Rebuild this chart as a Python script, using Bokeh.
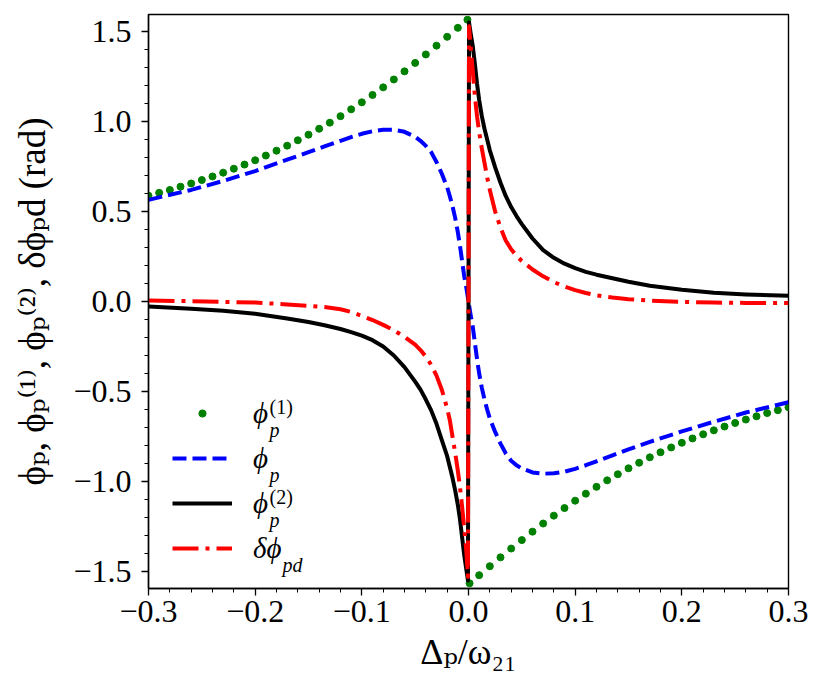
from bokeh.plotting import figure
from bokeh.models import (Label, Legend, LegendItem, FixedTicker,
                          CustomJSTickFormatter, Range1d)
from bokeh.embed import file_html
from bokeh.resources import INLINE

# ---- data ----
x_line = [-0.300, -0.260, -0.230, -0.200, -0.170, -0.150, -0.135, -0.120, -0.110, -0.100,
          -0.090, -0.080, -0.070, -0.060, -0.050, -0.045, -0.040, -0.035, -0.030, -0.025,
          -0.020, -0.0175, -0.015, -0.0125, -0.010, -0.008, -0.006, -0.004, -0.002, -0.0005,
          0.0005, 0.002, 0.004, 0.006, 0.008, 0.010, 0.0125, 0.015, 0.0175, 0.020,
          0.025, 0.030, 0.035, 0.040, 0.045, 0.050, 0.060, 0.070, 0.080, 0.090,
          0.100, 0.110, 0.120, 0.135, 0.150, 0.170, 0.200, 0.230, 0.260, 0.300]

phi_p = [0.565, 0.62, 0.67, 0.725, 0.788, 0.83, 0.862, 0.893, 0.914, 0.932,
         0.946, 0.955, 0.955, 0.943, 0.915, 0.893, 0.865, 0.83, 0.775, 0.71,
         0.635, 0.585, 0.53, 0.465, 0.385, 0.31, 0.225, 0.14, 0.075, 0.02,
         -0.02, -0.075, -0.14, -0.23, -0.32, -0.40, -0.48, -0.545, -0.60, -0.65,
         -0.725, -0.79, -0.845, -0.885, -0.91, -0.928, -0.95, -0.957, -0.955, -0.946,
         -0.93, -0.91, -0.888, -0.855, -0.822, -0.78, -0.722, -0.668, -0.617, -0.56]

phi_p2 = [-0.028, -0.040, -0.051, -0.068, -0.095, -0.114, -0.132, -0.153, -0.17, -0.19,
          -0.215, -0.25, -0.30, -0.365, -0.445, -0.49, -0.545, -0.605, -0.68, -0.77,
          -0.86, -0.92, -0.98, -1.05, -1.13, -1.21, -1.31, -1.41, -1.49, -1.55,
          1.55, 1.49, 1.42, 1.32, 1.21, 1.12, 1.03, 0.96, 0.90, 0.84,
          0.745, 0.66, 0.585, 0.525, 0.475, 0.43, 0.35, 0.285, 0.243, 0.210,
          0.185, 0.165, 0.149, 0.129, 0.110, 0.088, 0.065, 0.048, 0.039, 0.032]

dphi_pd = [0.005, 0.002, -0.002, -0.006, -0.016, -0.024, -0.031, -0.043, -0.058, -0.08,
           -0.103, -0.13, -0.16, -0.196, -0.240, -0.270, -0.306, -0.352, -0.412, -0.49,
           -0.595, -0.66, -0.75, -0.84, -0.94, -1.03, -1.14, -1.26, -1.39, -1.53,
           1.53, 1.42, 1.28, 1.14, 1.03, 0.94, 0.85, 0.77, 0.69, 0.62,
           0.50, 0.41, 0.338, 0.29, 0.255, 0.225, 0.178, 0.14, 0.108, 0.083,
           0.063, 0.047, 0.034, 0.022, 0.013, 0.005, -0.002, -0.006, -0.008, -0.009]

x_dots = [-0.30, -0.29, -0.28, -0.27, -0.26, -0.25, -0.24, -0.23, -0.22, -0.21,
          -0.20, -0.19, -0.18, -0.17, -0.16, -0.15, -0.14, -0.13, -0.12, -0.11,
          -0.10, -0.09, -0.08, -0.07, -0.06, -0.05, -0.04, -0.03, -0.02, -0.01, -0.001,
          0.001, 0.01, 0.02, 0.03, 0.04, 0.05, 0.06, 0.07, 0.08, 0.09,
          0.10, 0.11, 0.12, 0.13, 0.14, 0.15, 0.16, 0.17, 0.18, 0.19,
          0.20, 0.21, 0.22, 0.23, 0.24, 0.25, 0.26, 0.27, 0.28, 0.29, 0.30]

phi_p1 = [0.588, 0.604, 0.620, 0.638, 0.656, 0.675, 0.695, 0.716, 0.738, 0.761,
          0.785, 0.811, 0.838, 0.866, 0.896, 0.927, 0.960, 0.994, 1.030, 1.068,
          1.107, 1.148, 1.190, 1.234, 1.279, 1.326, 1.373, 1.422, 1.471, 1.521, 1.566,
          -1.566, -1.521, -1.471, -1.422, -1.373, -1.326, -1.279, -1.234, -1.190, -1.148,
          -1.107, -1.068, -1.030, -0.994, -0.960, -0.927, -0.896, -0.866, -0.838, -0.811,
          -0.785, -0.761, -0.738, -0.716, -0.695, -0.675, -0.656, -0.638, -0.620, -0.604, -0.588]

x_major = [-0.3, -0.2, -0.1, 0.0, 0.1, 0.2, 0.3]
x_minor = [round(-0.30 + 0.02 * i, 2) for i in range(31)]
y_major = [-1.5, -1.0, -0.5, 0.0, 0.5, 1.0, 1.5]
y_minor = [round(-1.5 + 0.1 * i, 1) for i in range(31)]

x_title = "Δₚ/ω₂₁"
y_title = "ϕₚ, ϕₚ⁽¹⁾, ϕₚ⁽²⁾, δϕₚd (rad)"

SERIF = "Liberation Serif, DejaVu Serif"

p = figure(width=822, height=685, output_backend="svg", toolbar_location=None,
           x_range=Range1d(-0.3, 0.3), y_range=Range1d(-1.595, 1.595),
           min_border_left=148, min_border_right=34, min_border_top=14, min_border_bottom=97)
p.xgrid.visible = False
p.ygrid.visible = False
p.outline_line_color = "black"
p.outline_line_width = 1.4
p.outline_line_alpha = 1.0
p.background_fill_color = "white"
p.border_fill_color = "white"

p.xaxis.ticker = FixedTicker(ticks=x_major, minor_ticks=x_minor)
p.yaxis.ticker = FixedTicker(ticks=y_major, minor_ticks=y_minor)
fmt = CustomJSTickFormatter(code="""
const v = Math.abs(tick) < 1e-9 ? 0 : tick;
return (v < 0 ? "\\u2212" : "") + Math.abs(v).toFixed(1);
""")
for ax in (p.xaxis[0], p.yaxis[0]):
    ax.formatter = fmt
    ax.axis_line_color = "black"
    ax.axis_line_width = 1.4
    ax.major_tick_out = 7
    ax.major_tick_in = 0
    ax.minor_tick_out = 4
    ax.minor_tick_in = 0
    ax.major_tick_line_width = 1.3
    ax.minor_tick_line_width = 1.0
    ax.major_tick_line_color = "black"
    ax.minor_tick_line_color = "black"
    ax.major_label_text_font = SERIF
    ax.major_label_text_font_size = "32px"
    ax.major_label_text_color = "black"
    ax.axis_label_text_font = SERIF
    ax.axis_label_text_font_style = "normal"
    ax.axis_label_text_color = "black"
p.xaxis.major_label_standoff = 5
p.yaxis.major_label_standoff = 10
p.xaxis.axis_label = x_title
p.yaxis.axis_label = y_title
p.xaxis.axis_label_text_font_size = "36px"
p.yaxis.axis_label_text_font_size = "37px"
p.xaxis.axis_label_standoff = 7
p.yaxis.axis_label_standoff = 17

r_g = p.scatter(x_dots, phi_p1, size=7, marker="circle", fill_color="#008000",
                line_color="#008000")
r_b = p.line(x_line, phi_p, line_color="#0000ff", line_width=4, line_dash="14 6",
             line_join="round", line_cap="butt")
r_k = p.line(x_line, phi_p2, line_color="black", line_width=4, line_join="round")
r_r = p.line(x_line, dphi_pd, line_color="#ff0000", line_width=4, line_dash="26 7 4 7",
             line_join="round", line_cap="butt")

legend = Legend(items=[LegendItem(label="ϕ", renderers=[r_g]),
                       LegendItem(label="ϕ", renderers=[r_b]),
                       LegendItem(label="ϕ", renderers=[r_k]),
                       LegendItem(label="δϕ", renderers=[r_r])],
                location=(24, 22), glyph_width=60, glyph_height=18, label_height=36,
                spacing=9, padding=0, margin=0, label_standoff=21,
                border_line_alpha=0, background_fill_alpha=0,
                label_text_font=SERIF, label_text_font_style="italic",
                label_text_font_size="29px", label_text_color="black")
p.add_layout(legend)


def txt(t, sx, sy, size, italic=False):
    p.add_layout(Label(x=sx, y=sy, x_units="screen", y_units="screen", text=t,
                       text_font=SERIF, text_font_size=f"{size}px",
                       text_font_style="italic" if italic else "normal",
                       text_align="left", text_baseline="alphabetic",
                       text_color="black"))


# legend sub/superscripts
txt("p", 121, 159, 20, True)
txt("(1)", 121, 182, 20)
txt("p", 121, 114, 20, True)
txt("p", 121, 69, 20, True)
txt("(2)", 121, 92, 20)
txt("pd", 134, 24, 20, True)

open("out.html", "w").write(file_html(p, INLINE))
